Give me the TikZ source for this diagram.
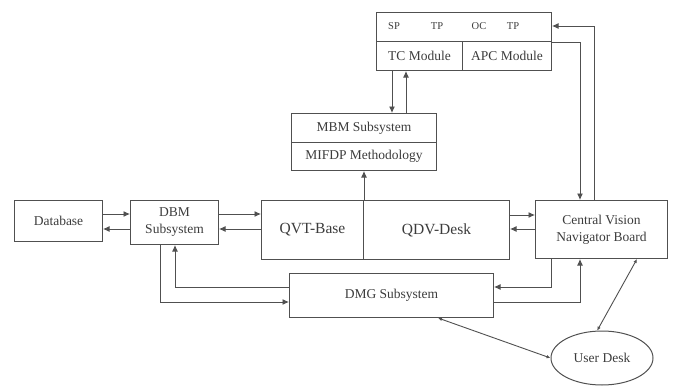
\documentclass[tikz,border=0pt]{standalone}
\usepackage{fontspec}
\setmainfont{Liberation Serif}
\usetikzlibrary{arrows.meta,shapes.geometric}
\definecolor{LineGray}{HTML}{505050}
\definecolor{TextGray}{HTML}{3C3C3C}

\begin{document}
\begin{tikzpicture}[
  x=1pt,y=-1pt,
  font=\fontsize{13.5}{17}\selectfont,
  box/.style={draw=LineGray,line width=1pt,anchor=north west,inner sep=0pt,
              align=center,text=TextGray},
  tag/.style={font=\fontsize{10.5}{12}\selectfont,text=TextGray,inner sep=0pt},
  ar/.style={-{Latex[length=6.5pt,width=6pt]},draw=LineGray,line width=0.9pt},
  dar/.style={{Latex[length=4pt,width=3.5pt]}-{Latex[length=4pt,width=3.5pt]},
              draw=LineGray,line width=0.9pt},
]
\useasboundingbox (0,0) rectangle (673,386);

% top module block
\node[box,minimum width=175pt,minimum height=29pt] (spb) at (376,12) {};
\node[box,minimum width=86pt,minimum height=29pt] (tcm) at (376,41) {TC Module};
\node[box,minimum width=89pt,minimum height=29pt] (apc) at (462,41) {APC Module};
\node[tag] (sp) at (394,26) {SP};
\node[tag] (tpa) at (437,26) {TP};
\node[tag] (oc) at (479,26) {OC};
\node[tag] (tpb) at (513,26) {TP};

\node[box,minimum width=145pt,minimum height=29pt] (mbm) at (291,113) {MBM Subsystem};
\node[box,minimum width=145pt,minimum height=28pt] (mifdp) at (291,142) {MIFDP Methodology};

\node[box,minimum width=88pt,minimum height=41pt] (db) at (14,200) {Database};
\node[box,minimum width=88pt,minimum height=44pt] (dbm) at (130,200) {DBM\\Subsystem};
\node[box,minimum width=102pt,minimum height=59pt,font=\fontsize{15.5}{18}\selectfont]
  (qvt) at (261,200) {QVT-Base};
\node[box,minimum width=146pt,minimum height=59pt,font=\fontsize{15.5}{18}\selectfont]
  (qdv) at (363,200) {QDV-Desk};
\node[box,minimum width=132pt,minimum height=58pt] (cvn) at (535,200)
  {Central Vision\\Navigator Board};
\node[box,minimum width=204pt,minimum height=44pt] (dmg) at (289,273) {DMG Subsystem};
\node[draw=LineGray,line width=1pt,ellipse,minimum width=102pt,minimum height=54pt,
  inner sep=0pt,text=TextGray] (user) at (602,358) {User Desk};

\draw[ar] ([xshift=16pt]tcm.south west) -- ([xshift=101pt]mbm.north west);
\draw[ar] ([xshift=115pt]mbm.north west) -- ([xshift=30pt]tcm.south west);
\draw[ar] (qvt.north east) -- (mifdp.south -| qvt.north east);

\draw[ar] ([yshift=-14pt]db.north east) -- ([yshift=-14pt]db.north east -| dbm.west);
\draw[ar] ([yshift=-29pt]dbm.north west) -- ([yshift=-29pt]dbm.north west -| db.east);
\draw[ar] ([yshift=-14pt]dbm.north east) -- ([yshift=-14pt]dbm.north east -| qvt.west);
\draw[ar] ([yshift=-29pt]qvt.north west) -- ([yshift=-29pt]qvt.north west -| dbm.east);
\draw[ar] ([yshift=-15pt]qdv.north east) -- ([yshift=-15pt]qdv.north east -| cvn.west);
\draw[ar] ([yshift=-29pt]cvn.north west) -- ([yshift=-29pt]cvn.north west -| qdv.east);

\draw[ar] ([xshift=59pt]cvn.north west) |- ([yshift=-14pt]spb.north east);
\draw[ar] (spb.south east) -| ([xshift=45pt]cvn.north west);

\draw[ar] ([xshift=30pt]dbm.south west) |- ([yshift=-29pt]dmg.north west);
\draw[ar] ([yshift=-14pt]dmg.north west) -| ([xshift=45pt]dbm.south west);
\draw[ar] ([xshift=16pt]cvn.south west) |- ([yshift=-14pt]dmg.north east);
\draw[ar] ([yshift=-29pt]dmg.north east) -| ([xshift=45pt]cvn.south west);

\draw[dar] ([xshift=102pt]cvn.south west) -- (user.100);
\draw[dar] ([xshift=149pt]dmg.south west) -- (user.west);
\end{tikzpicture}
\end{document}
